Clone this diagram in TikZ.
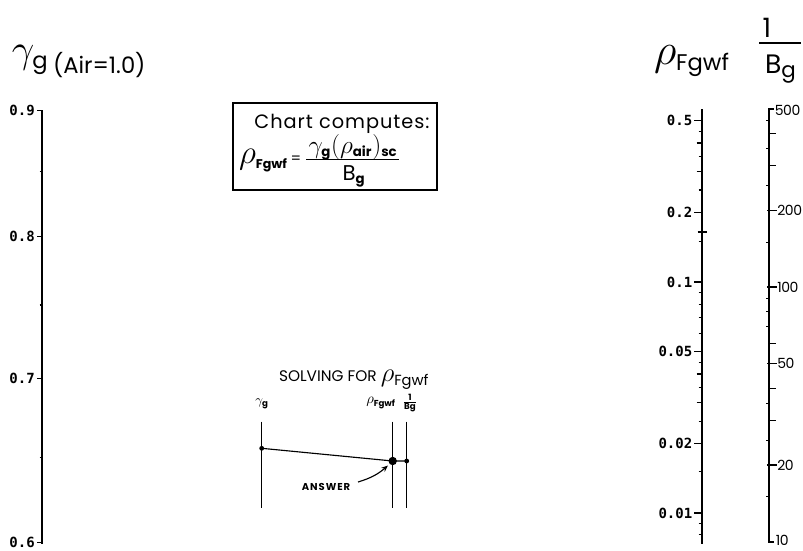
\documentclass[tikz,border=0pt]{standalone}
\usepackage{fix-cm}
\usepackage{amsmath}
\usepackage{fontspec}
\setmainfont{Poppins}
\newfontfamily\scalefont{DejaVu Sans Mono}
\usetikzlibrary{arrows.meta}

% text at a given point size, usable inside math
\newcommand\fsz[2]{\mbox{\fontsize{#1}{#1}\selectfont #2}}

\tikzset{
  axisline/.style={line width=1.2pt, line cap=rect},
  tickline/.style={line width=0.9pt},
  scalelbl/.style={font=\scalefont\bfseries\fontsize{10.5}{11}\selectfont, inner sep=0pt},
  binvlbl/.style={font=\fontsize{10.5}{10.5}\selectfont\addfontfeatures{LetterSpace=-3}, inner sep=0pt},
  plain/.style={inner sep=0pt, outer sep=0pt},
  thinline/.style={line width=0.85pt},
  dotmark/.style={fill=black, draw=none}
}

\begin{document}
\begin{tikzpicture}[x=0.75pt,y=-0.75pt]
\useasboundingbox (0,0) rectangle (803,550);

% ---------------- specific gravity scale (left) ----------------
\node[plain, anchor=base west] (gsym) at (12,62)
  {\fontsize{30}{30}\selectfont$\gamma_{\fsz{17}{g}}$};
\node[plain, anchor=base west] (gair) at (53,73)
  {\fontsize{17}{17}\selectfont(Air=1.0)};

\coordinate (gtop) at (42,111);
\coordinate (gbot) at (42,543);
\draw[axisline] (gtop) -- (gbot);
\foreach \v [count=\i] in {0.9,0.8,0.7,0.6}{
  \pgfmathsetmacro\yy{111+2450*log10(0.9/\v)}
  \draw[tickline] (37,\yy) -- (42,\yy);
  \node[scalelbl, anchor=east] (gl\i) at (35,\yy) {\v};
}
\foreach \v in {0.85,0.75,0.65}{
  \pgfmathsetmacro\yy{111+2450*log10(0.9/\v)}
  \draw[tickline] (39.5,\yy) -- (42,\yy);
}

% ---------------- density scale ----------------
\node[plain, anchor=base west] (rhohead) at (654,64)
  {\fontsize{33}{33}\selectfont$\rho_{\fsz{17}{Fgwf}}$};

\coordinate (rtop) at (702,110);
\coordinate (rbot) at (702,543);
\draw[axisline] (rtop) -- (rbot);
\foreach \v [count=\i] in {0.5,0.2,0.1,0.05,0.02,0.01}{
  \pgfmathsetmacro\yy{282-231*log10(\v/0.1)}
  \draw[tickline] (694,\yy) -- (702,\yy);
  \node[scalelbl, anchor=east] (rl\i) at (692.5,\yy) {\v};
}
\foreach \v in {0.4,0.3,0.04,0.03}{
  \pgfmathsetmacro\yy{282-231*log10(\v/0.1)}
  \draw[tickline] (696.5,\yy) -- (702,\yy);
}
\foreach \v in {0.45,0.35,0.25,0.15,0.09,0.08,0.07,0.06,0.045,0.035,0.025,0.015,0.009,0.008}{
  \pgfmathsetmacro\yy{282-231*log10(\v/0.1)}
  \draw[tickline] (698.5,\yy) -- (702,\yy);
}
\draw[tickline] (697.5,232) -- (707,232);

% ---------------- 1/Bg scale (right) ----------------
\node[plain] (binvone) at (767,28) {\fontsize{20}{20}\selectfont 1};
\coordinate (barl) at (759,43);
\coordinate (barr) at (801,43);
\draw[line width=1.6pt] (barl) -- (barr);
\node[plain, anchor=base west] (binvden) at (765,73)
  {\fontsize{20}{20}\selectfont B$_{\fsz{16}{g}}$};

\coordinate (btop) at (769,109);
\coordinate (bbot) at (769,542);
\draw[axisline] (btop) -- (bbot);
\draw[tickline] (btop) -- ++(5,0);
\draw[tickline] (bbot) -- ++(5,0);
\node[binvlbl, anchor=west] (bl500) at (774.5,110) {500};
\node[binvlbl, anchor=west] (bl10) at (775.5,540.5) {10};
\foreach \v in {200,100,50,20}{
  \pgfmathsetmacro\yy{109+254.7*log10(500/\v)}
  \draw[tickline] (767,\yy) -- (777,\yy);
  \node[binvlbl, anchor=west] (bl\v) at (777,\yy) {\v};
}
\foreach \v in {400,300,60,40,30}{
  \pgfmathsetmacro\yy{109+254.7*log10(500/\v)}
  \draw[tickline] (769,\yy) -- (776,\yy);
}
\foreach \v in {450,350,250,150,90,80,70,35,25,15}{
  \pgfmathsetmacro\yy{109+254.7*log10(500/\v)}
  \draw[tickline] (766,\yy) -- (769,\yy);
}

% ---------------- formula box ----------------
\node[draw, line width=1.2pt, minimum width=153pt, minimum height=65.25pt, inner sep=0pt]
  (chartbox) at (335,146.5) {};
\node[plain, anchor=base] (charttitle) at (342,128)
  {\fontsize{14.5}{14.5}\selectfont\addfontfeatures{LetterSpace=5}Chart computes:};
\node[plain, anchor=base west] (frho) at (239,163)
  {\fontsize{25}{25}\selectfont$\rho_{\fsz{9.5}{\bfseries Fgwf}}$};
\node[plain] (feq) at (296,160) {\fontsize{11}{11}\selectfont=};
\node[plain, anchor=base] (fnum) at (353,153)
  {\fontsize{19}{19}\selectfont$\gamma_{\fsz{10}{\bfseries g}}(\rho_{\fsz{10}{\bfseries air}})_{\fsz{10}{\bfseries sc}}$};
\coordinate (fbarl) at (306,159.5);
\coordinate (fbarr) at (399,159.5);
\draw[line width=1.2pt] (fbarl) -- (fbarr);
\node[plain, anchor=base] (fden) at (354,180)
  {\fontsize{16}{16}\selectfont B$_{\fsz{10}{\bfseries g}}$};

% ---------------- solving key ----------------
\node[plain, anchor=base west] (solvehead) at (279,381)
  {\fontsize{11.5}{12}\selectfont SOLVING FOR \fontsize{20}{20}\selectfont$\rho_{\fsz{11}{Fgwf}}$};

\node[plain] (kg) at (262,404) {\fontsize{10}{10}\selectfont$\gamma_{\fsz{6.5}{\bfseries g}}$};
\node[plain] (kr) at (381,403) {\fontsize{11}{11}\selectfont$\rho_{\fsz{6.5}{\bfseries Fgwf}}$};
\node[plain] (kb) at (410,403) {\fontsize{6}{6}\selectfont$\genfrac{}{}{0.5pt}{}{\fsz{6.5}{\bfseries 1}}{\fsz{6.5}{\bfseries Bg}}$};

\coordinate (kgt) at (261.7,421.7);
\coordinate (kgb) at (261.7,508);
\coordinate (krt) at (392.7,421.7);
\coordinate (krb) at (392.7,508);
\coordinate (kbt) at (406.7,421.7);
\coordinate (kbb) at (406.7,508);
\draw[thinline] (kgt) -- (kgb);
\draw[thinline] (krt) -- (krb);
\draw[thinline] (kbt) -- (kbb);

\coordinate (pg) at (261.7,448.3);
\coordinate (pr) at (392.7,461);
\coordinate (pb) at (406.7,461);
\draw[thinline] (pg) -- (pr) -- (pb);
\fill[dotmark] (pg) circle (2.4);
\fill[dotmark] (pr) circle (4.2);
\fill[dotmark] (pb) circle (2.4);

\node[plain] (answer) at (326,486.5)
  {\fontsize{7.5}{7.5}\selectfont\bfseries\addfontfeatures{LetterSpace=10}ANSWER};
\coordinate (ansfrom) at (358,482);
\coordinate (ansto) at (388,465.5);
\draw[thinline, -{Stealth[length=5pt,width=4pt]}] (ansfrom) to[bend right=12] (ansto);

\end{tikzpicture}
\end{document}
